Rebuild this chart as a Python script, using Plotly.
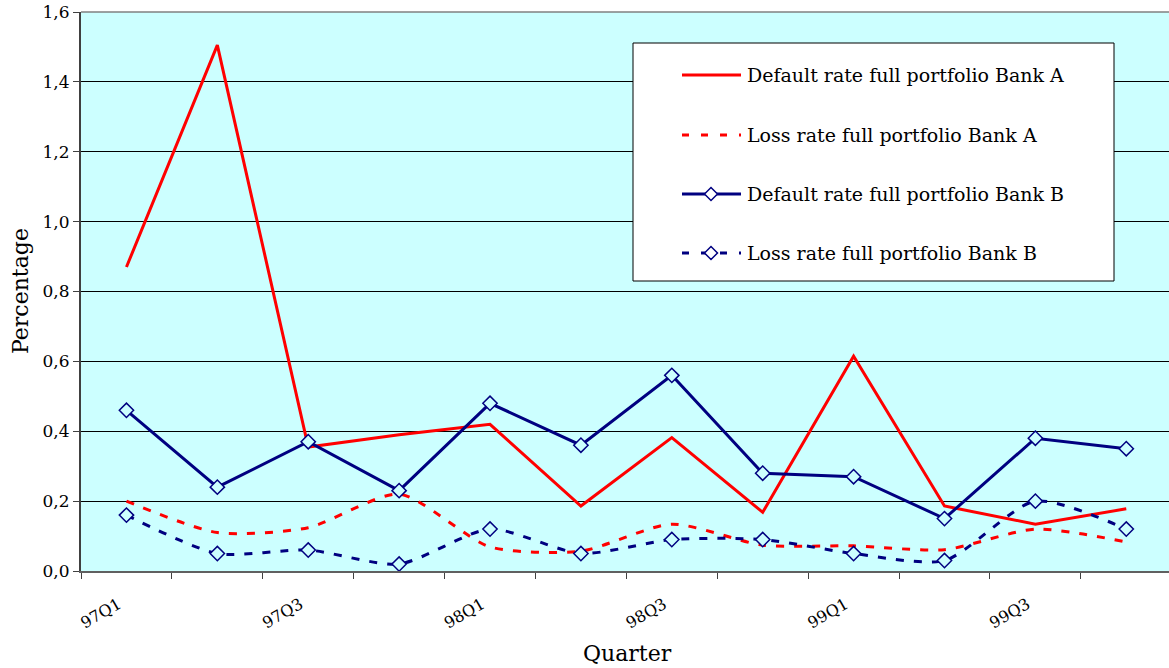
import plotly.graph_objects as go

quarters = ["97Q1", "97Q2", "97Q3", "97Q4", "98Q1", "98Q2",
            "98Q3", "98Q4", "99Q1", "99Q2", "99Q3", "99Q4"]
tick_labels = ["97Q1", "", "97Q3", "", "98Q1", "", "98Q3", "", "99Q1", "", "99Q3", ""]
y_ticks = [0.0, 0.2, 0.4, 0.6, 0.8, 1.0, 1.2, 1.4, 1.6]
y_tick_labels = ["0,0", "0,2", "0,4", "0,6", "0,8", "1,0", "1,2", "1,4", "1,6"]

default_a = [0.87, 1.505, 0.355, 0.39, 0.42, 0.186, 0.382, 0.168, 0.615, 0.186, 0.134, 0.178]
loss_a = [0.20, 0.11, 0.124, 0.22, 0.069, 0.057, 0.134, 0.074, 0.072, 0.061, 0.12, 0.083]
default_b = [0.46, 0.24, 0.37, 0.23, 0.48, 0.36, 0.56, 0.28, 0.27, 0.15, 0.38, 0.35]
loss_b = [0.16, 0.05, 0.06, 0.02, 0.12, 0.05, 0.09, 0.09, 0.05, 0.03, 0.20, 0.12]

series_names = ["Default rate full portfolio Bank A",
                "Loss rate full portfolio Bank A",
                "Default rate full portfolio Bank B",
                "Loss rate full portfolio Bank B"]

RED = "#FF0000"
NAVY = "#000080"
BG = "#CCFFFF"
FONT = "DejaVu Serif"
DASH = "8px,10px"

W, H = 1169, 668
ML, MR, MT, MB = 81, 0, 12, 97
PW, PH = W - ML - MR, H - MT - MB
PLOT_L, PLOT_B = ML, H - MB  # pixel positions of plot area left / bottom


def px(x):
    return (x - PLOT_L) / PW


def py(y):
    return (PLOT_B - y) / PH


fig = go.Figure()
fig.add_trace(go.Scatter(x=quarters, y=default_a, mode="lines", name=series_names[0],
                         line=dict(color=RED, width=3)))
fig.add_trace(go.Scatter(x=quarters, y=loss_a, mode="lines", name=series_names[1],
                         line=dict(color=RED, width=3, dash=DASH, shape="spline", smoothing=0.7)))
fig.add_trace(go.Scatter(x=quarters, y=default_b, mode="lines+markers", name=series_names[2],
                         line=dict(color=NAVY, width=3),
                         marker=dict(symbol="diamond", size=11, color=BG,
                                     line=dict(color=NAVY, width=1.5))))
fig.add_trace(go.Scatter(x=quarters, y=loss_b, mode="lines+markers", name=series_names[3],
                         line=dict(color=NAVY, width=3, dash=DASH, shape="spline", smoothing=0.7),
                         marker=dict(symbol="diamond", size=11, color=BG,
                                     line=dict(color=NAVY, width=1.5))))

shapes = []
annotations = []

# top border of plot area
shapes.append(dict(type="line", xref="paper", yref="paper", x0=0, x1=1, y0=1, y1=1,
                   line=dict(color="#808080", width=1.5)))

# manual legend
shapes.append(dict(type="rect", xref="paper", yref="paper",
                   x0=px(633), x1=px(1114), y0=py(281), y1=py(43),
                   line=dict(color="#000000", width=1), fillcolor="#FFFFFF", layer="above"))
rows = [75, 135, 194, 253]
styles = [(RED, "solid", False), (RED, "7px,12px", False),
          (NAVY, "solid", True), (NAVY, "7px,12px", True)]
for name, ry, (col, dash, mk) in zip(series_names, rows, styles):
    shapes.append(dict(type="line", xref="paper", yref="paper",
                       x0=px(682), x1=px(741), y0=py(ry), y1=py(ry),
                       line=dict(color=col, width=3, dash=dash), layer="above"))
    if mk:
        cx, d = 711, 6.5
        path = "M {},{} L {},{} L {},{} L {},{} Z".format(
            px(cx - d), py(ry), px(cx), py(ry - d), px(cx + d), py(ry), px(cx), py(ry + d))
        shapes.append(dict(type="path", xref="paper", yref="paper", path=path,
                           line=dict(color=NAVY, width=1.5), fillcolor="#FFFFFF", layer="above"))
    annotations.append(dict(text=name, xref="paper", yref="paper", x=px(745), y=py(ry),
                            xanchor="left", yanchor="middle", showarrow=False,
                            font=dict(family=FONT, size=19, color="#000000")))

annotations.append(dict(text="Quarter", xref="paper", yref="paper", x=px(627), y=py(653),
                        xanchor="center", yanchor="middle", showarrow=False,
                        font=dict(family=FONT, size=22, color="#000000")))
annotations.append(dict(text="Percentage", xref="paper", yref="paper", x=px(20), y=py(291),
                        xanchor="center", yanchor="middle", showarrow=False, textangle=-90,
                        font=dict(family=FONT, size=22, color="#000000")))

fig.update_layout(
    width=W, height=H,
    margin=dict(l=ML, r=MR, t=MT, b=MB, pad=0),
    paper_bgcolor="#FFFFFF",
    plot_bgcolor=BG,
    showlegend=False,
    font=dict(family=FONT, size=17, color="#000000"),
    shapes=shapes,
    annotations=annotations,
    xaxis=dict(type="category", range=[-0.5, 11.47], tickmode="array",
               tickvals=quarters, ticktext=tick_labels, tickson="boundaries",
               ticks="outside", ticklen=6, tickwidth=1, tickcolor="#404040",
               tickangle=-30, ticklabelstandoff=16, ticklabelshift=-8,
               showline=True, linecolor="#606060", linewidth=2,
               showgrid=False, zeroline=False,
               tickfont=dict(family=FONT, size=16, color="#000000")),
    yaxis=dict(range=[0, 1.6], tickmode="array", tickvals=y_ticks, ticktext=y_tick_labels,
               ticks="outside", ticklen=6, tickwidth=1, tickcolor="#404040",
               showline=True, linecolor="#404040", linewidth=2,
               showgrid=True, gridcolor="#000000", gridwidth=1, zeroline=False,
               ticklabeloverflow="allow",
               tickfont=dict(family=FONT, size=17, color="#000000")),
)

fig.write_html("out.html",
               config={"displayModeBar": False},
               post_script="document.body.style.margin='0px';document.body.style.overflow='hidden';")
